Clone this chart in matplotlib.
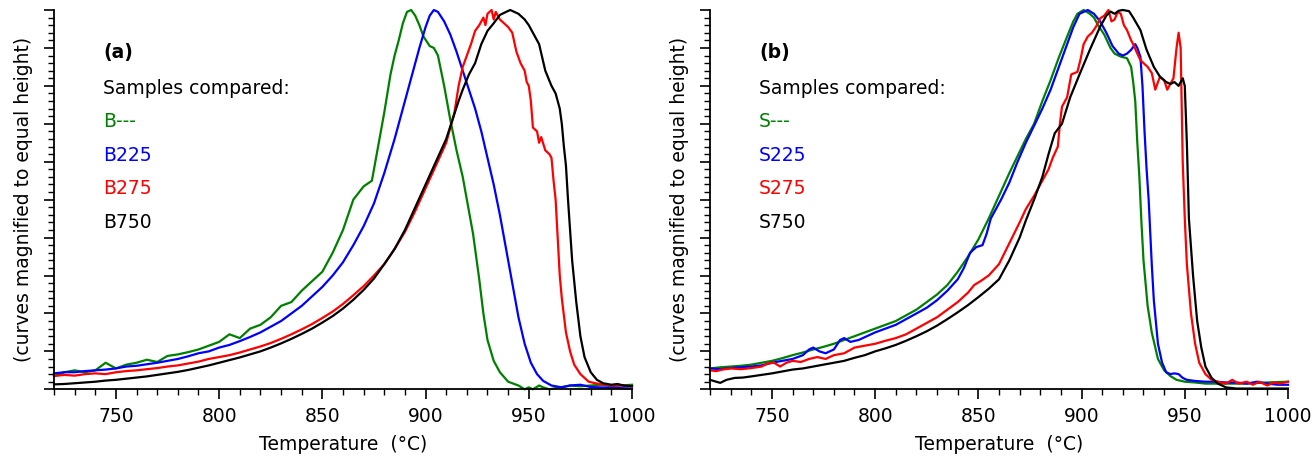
import matplotlib
matplotlib.use("Agg")
import matplotlib.pyplot as plt
from matplotlib.ticker import MultipleLocator, NullFormatter

plt.rcParams['font.family'] = ['DejaVu Sans']

# ---------------- data: panel (a) ----------------
B_none = [(720,0.035),(725,0.045),(730,0.05),(735,0.045),(740,0.05),(745,0.07),(750,0.055),(755,0.065),
          (760,0.07),(765,0.078),(770,0.072),(775,0.088),(780,0.092),(785,0.098),(790,0.105),(795,0.115),
          (800,0.125),(805,0.145),(810,0.135),(815,0.16),(820,0.17),(825,0.19),(830,0.22),(835,0.23),
          (840,0.26),(845,0.285),(850,0.31),(855,0.36),(860,0.42),(865,0.5),(870,0.535),(874,0.55),
          (877,0.64),(880,0.73),(883,0.83),(885,0.88),(887,0.92),(889,0.965),(891,0.995),(893,1.0),
          (895,0.985),(897,0.96),(899,0.93),(902,0.905),(904,0.9),(906,0.88),(909,0.8),(912,0.71),
          (915,0.63),(918,0.56),(920,0.5),(923,0.41),(926,0.29),(928,0.2),(930,0.13),(933,0.075),
          (936,0.045),(940,0.02),(945,0.01),(948,0.0),(950,0.005),(952,0.0),(955,0.01),(957,0.005),
          (960,0.0),(965,0.005),(970,0.01),(975,0.008),(980,0.01),(985,0.012),(990,0.008),(995,0.01),
          (1000,0.012)]
B225 = [(720,0.042),(725,0.045),(730,0.045),(735,0.048),(740,0.05),(745,0.052),(750,0.055),(755,0.06),
        (760,0.062),(765,0.066),(770,0.07),(775,0.075),(780,0.08),(785,0.087),(790,0.095),(795,0.1),
        (800,0.11),(805,0.117),(810,0.127),(815,0.138),(820,0.15),(825,0.165),(830,0.18),(835,0.2),
        (840,0.22),(845,0.245),(850,0.27),(855,0.3),(860,0.335),(865,0.38),(870,0.43),(875,0.49),
        (880,0.57),(885,0.66),(888,0.72),(891,0.78),(894,0.84),(897,0.9),(900,0.955),(902,0.985),
        (904,1.0),(906,0.995),(909,0.97),(912,0.935),(915,0.89),(918,0.84),(921,0.79),(924,0.74),
        (927,0.68),(930,0.61),(933,0.54),(936,0.46),(939,0.37),(942,0.28),(945,0.19),(948,0.12),
        (951,0.07),(954,0.04),(957,0.022),(961,0.01),(966,0.005),(970,0.01),(975,0.012),(980,0.006),
        (985,0.005),(990,0.004),(1000,0.002)]
B275 = [(720,0.035),(725,0.038),(730,0.036),(735,0.04),(740,0.042),(745,0.04),(750,0.045),(755,0.048),
        (760,0.05),(765,0.053),(770,0.056),(775,0.06),(780,0.063),(785,0.068),(790,0.073),(795,0.08),
        (800,0.085),(805,0.09),(810,0.097),(815,0.105),(820,0.113),(825,0.122),(830,0.133),(835,0.145),
        (840,0.158),(845,0.172),(850,0.188),(855,0.205),(860,0.225),(865,0.248),(870,0.272),(875,0.3),
        (880,0.33),(885,0.37),(890,0.415),(895,0.47),(900,0.53),(905,0.59),(910,0.65),(912,0.69),
        (914,0.73),(916,0.8),(918,0.85),(920,0.88),(922,0.91),(924,0.945),(926,0.96),(928,0.98),
        (929,0.96),(930,0.99),(932,1.0),(933,0.975),(934,0.995),(936,0.975),(938,0.965),(940,0.955),
        (942,0.94),(944,0.89),(946,0.86),(948,0.84),(949,0.81),(950,0.8),(951,0.76),(952,0.69),
        (954,0.68),(955,0.65),(956,0.665),(958,0.63),(960,0.62),(961,0.61),(962,0.55),(963,0.5),
        (964,0.4),(965,0.3),(966,0.24),(968,0.15),(970,0.1),(972,0.065),(975,0.04),(979,0.02),
        (983,0.015),(987,0.012),(990,0.01),(995,0.01),(1000,0.008)]
B750 = [(720,0.013),(725,0.014),(730,0.016),(735,0.018),(740,0.02),(745,0.023),(750,0.025),(755,0.028),
        (760,0.031),(765,0.034),(770,0.038),(775,0.042),(780,0.046),(785,0.051),(790,0.057),(795,0.063),
        (800,0.07),(805,0.077),(810,0.084),(815,0.092),(820,0.1),(825,0.11),(830,0.121),(835,0.133),
        (840,0.146),(845,0.16),(850,0.176),(855,0.193),(860,0.213),(865,0.236),(870,0.262),(875,0.292),
        (880,0.33),(885,0.37),(890,0.42),(895,0.48),(900,0.54),(905,0.6),(910,0.66),(913,0.71),
        (916,0.76),(918,0.79),(921,0.83),(924,0.86),(927,0.91),(930,0.945),(933,0.965),(936,0.987),
        (939,0.995),(941,1.0),(943,0.995),(945,0.99),(948,0.975),(950,0.96),(953,0.93),(955,0.91),
        (958,0.84),(961,0.8),(963,0.78),(965,0.74),(966,0.7),(967,0.64),(968,0.59),(969,0.5),
        (970,0.42),(971,0.34),(973,0.23),(975,0.14),(977,0.085),(980,0.045),(983,0.025),(986,0.016),
        (990,0.012),(993,0.014),(996,0.01),(1000,0.008)]

# ---------------- data: panel (b) ----------------
S_none = [(720,0.055),(725,0.058),(730,0.06),(735,0.062),(740,0.065),(745,0.07),(750,0.075),(755,0.082),
          (760,0.09),(765,0.097),(770,0.105),(775,0.112),(780,0.12),(785,0.13),(790,0.14),(795,0.15),
          (800,0.16),(805,0.17),(810,0.18),(815,0.195),(820,0.21),(825,0.23),(830,0.25),(835,0.275),
          (840,0.31),(845,0.35),(850,0.395),(855,0.45),(860,0.51),(865,0.57),(869,0.615),(873,0.66),
          (877,0.7),(881,0.76),(885,0.815),(889,0.875),(893,0.93),(896,0.97),(898,0.99),(901,1.0),
          (904,0.99),(906,0.98),(908,0.96),(911,0.935),(914,0.9),(916,0.885),(919,0.877),(922,0.873),
          (924,0.85),(925,0.81),(926,0.76),(927,0.65),(928,0.56),(929,0.44),(930,0.34),(932,0.22),
          (934,0.15),(937,0.08),(940,0.05),(943,0.035),(946,0.025),(950,0.02),(955,0.018),(960,0.015),
          (970,0.015),(980,0.015),(990,0.018),(1000,0.02)]
S225 = [(720,0.055),(725,0.053),(730,0.056),(735,0.058),(740,0.06),(745,0.063),(750,0.07),(755,0.075),
        (760,0.08),(765,0.09),(768,0.105),(770,0.11),(773,0.1),(776,0.095),(780,0.105),(783,0.13),
        (785,0.135),(788,0.125),(792,0.13),(796,0.14),(800,0.15),(805,0.16),(810,0.17),(815,0.185),
        (820,0.2),(825,0.215),(830,0.235),(835,0.26),(840,0.29),(843,0.32),(846,0.36),(849,0.375),
        (852,0.38),(854,0.41),(856,0.45),(858,0.47),(861,0.5),(865,0.545),(869,0.6),(873,0.65),
        (877,0.695),(881,0.74),(885,0.79),(889,0.85),(893,0.91),(896,0.955),(899,0.99),(903,1.0),
        (906,0.99),(909,0.97),(912,0.94),(915,0.905),(918,0.885),(920,0.88),(922,0.885),(924,0.895),
        (926,0.91),(927,0.9),(928.5,0.877),(929.5,0.8),(930.5,0.68),(931.5,0.58),(932.5,0.5),(934,0.33),
        (935,0.235),(937,0.12),(939,0.07),(941,0.045),(943,0.04),(945,0.042),(947,0.04),(949,0.03),
        (951,0.025),(955,0.022),(960,0.02),(965,0.02),(970,0.018),(975,0.018),(980,0.015),(985,0.02),
        (990,0.015),(995,0.012),(1000,0.012)]
S275 = [(720,0.05),(723,0.048),(726,0.052),(730,0.055),(735,0.053),(740,0.056),(745,0.06),(748,0.068),
        (751,0.07),(754,0.06),(757,0.07),(760,0.075),(764,0.072),(768,0.08),(772,0.085),(776,0.08),
        (780,0.09),(785,0.095),(790,0.11),(795,0.115),(800,0.12),(805,0.128),(810,0.135),(815,0.145),
        (820,0.16),(825,0.175),(830,0.19),(835,0.21),(840,0.23),(845,0.255),(848,0.275),(851,0.285),
        (855,0.3),(860,0.33),(865,0.385),(870,0.44),(873,0.475),(877,0.51),(881,0.55),(884,0.58),
        (886,0.61),(888.5,0.64),(889.5,0.7),(890.5,0.745),(893,0.77),(895,0.83),(898,0.837),(899.5,0.87),
        (901,0.91),(903,0.93),(905,0.94),(907,0.956),(909,0.978),(911,0.985),(913,1.0),(914.5,0.97),
        (916,0.975),(917.5,0.995),(919,0.99),(920.5,0.96),(922,0.947),(924,0.92),(925,0.91),(927,0.885),
        (928.5,0.868),(930,0.86),(932,0.85),(934,0.834),(935.7,0.79),(937,0.81),(938,0.824),(940,0.815),
        (941.5,0.79),(943,0.805),(944.5,0.82),(946,0.9),(947,0.94),(948,0.9),(949,0.6),(950,0.45),
        (951,0.33),(953,0.2),(955,0.12),(957,0.07),(960,0.04),(963,0.025),(966,0.02),(970,0.015),
        (973,0.025),(976,0.015),(980,0.02),(983,0.012),(986,0.02),(990,0.01),(993,0.018),(996,0.015),
        (1000,0.02)]
S750 = [(720,0.025),(723,0.02),(725,0.017),(728,0.025),(732,0.03),(736,0.031),(740,0.034),(745,0.038),
        (750,0.042),(755,0.047),(760,0.052),(765,0.055),(770,0.06),(775,0.065),(780,0.07),(785,0.075),
        (790,0.083),(795,0.09),(800,0.1),(805,0.108),(810,0.117),(815,0.128),(820,0.14),(825,0.153),
        (830,0.168),(835,0.185),(840,0.203),(845,0.222),(850,0.243),(855,0.265),(860,0.29),(865,0.34),
        (870,0.4),(873,0.445),(877,0.5),(881,0.56),(884,0.62),(887,0.675),(890.5,0.7),(894.5,0.77),
        (899,0.83),(904,0.895),(909,0.956),(912,0.985),(914,0.996),(916,0.99),(918,0.998),(920,1.0),
        (923,0.997),(925,0.98),(928.5,0.947),(931.5,0.895),(935,0.85),(938,0.824),(941,0.81),(943,0.805),
        (945,0.81),(947,0.8),(949,0.82),(950,0.8),(951,0.65),(952,0.45),(954,0.3),(956,0.18),
        (958,0.11),(960,0.06),(963,0.03),(966,0.015),(970,0.005),(975,0.002),(980,0.002),(990,0.002),
        (1000,0.002)]

labels_a = ["B---", "B225", "B275", "B750"]
labels_b = ["S---", "S225", "S275", "S750"]
colors = ["#008000", "#0000ff", "#ff0000", "#000000"]
x_ticks = [750, 800, 850, 900, 950, 1000]

W, H = 1314, 468
fig = plt.figure(figsize=(W / 100, H / 100), dpi=100)

FS = 13.5

def make_panel(left_px, series, labels, tag):
    ax = fig.add_axes([left_px / W, (H - 389.3) / H, 578 / W, 379.3 / H])
    for s, c in zip(series, colors):
        t, y = zip(*s)
        ax.plot(t, y, color=c, lw=1.6, clip_on=False, solid_joinstyle="round")
    ax.set_xlim(720, 1000)
    ax.set_ylim(0, 1)
    ax.spines["top"].set_visible(False)
    ax.spines["right"].set_visible(False)
    ax.spines["left"].set_linewidth(1.3)
    ax.spines["bottom"].set_linewidth(1.3)
    ax.set_xticks(x_ticks)
    ax.xaxis.set_minor_locator(MultipleLocator(10))
    ax.yaxis.set_major_locator(MultipleLocator(0.1))
    ax.yaxis.set_minor_locator(MultipleLocator(0.02))
    ax.yaxis.set_major_formatter(NullFormatter())
    ax.tick_params(which="major", direction="out", length=7, width=1.2, labelsize=FS, pad=6)
    ax.tick_params(which="minor", direction="out", length=4, width=1.0)
    ax.set_xlabel("Temperature  (\u00b0C)", fontsize=FS, labelpad=6)
    ax.set_ylabel("(curves magnified to equal height)", fontsize=FS, labelpad=2)
    x0 = 0.085
    ax.text(x0, 0.887, tag, transform=ax.transAxes, fontsize=FS, fontweight="bold",
            va="center", ha="left")
    ax.text(x0, 0.794, "Samples compared:", transform=ax.transAxes, fontsize=FS,
            va="center", ha="left")
    for i, (lab, c) in enumerate(zip(labels, colors)):
        ax.text(x0, 0.706 - i * 0.0885, lab, transform=ax.transAxes, fontsize=FS,
                color=c, va="center", ha="left")
    return ax

make_panel(54, [B_none, B225, B275, B750], labels_a, "(a)")
make_panel(710, [S_none, S225, S275, S750], labels_b, "(b)")

fig.savefig("out.png", dpi=100)
